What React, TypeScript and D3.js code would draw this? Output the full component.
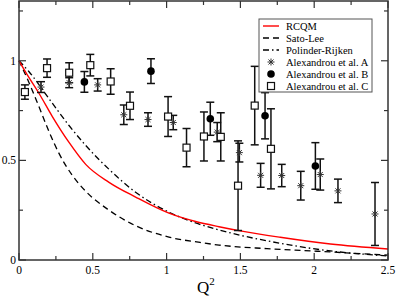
import * as d3 from 'd3';

// Q^2 axis and form factor values
const xTicks = [0, 0.5, 1, 1.5, 2, 2.5];
const xTickLabels = ['0', '0.5', '1', '1.5', '2', '2.5'];
const xMinor = [0.25, 0.75, 1.25, 1.75, 2.25];
const yTicks = [0, 0.5, 1];
const yTickLabels = ['0', '0.5', '1'];
const yMinor = [0.25, 0.75, 1.25];

// model curves
const rcqmQ = [0, 0.068, 0.135, 0.226, 0.339, 0.452, 0.61, 0.79, 1.016, 1.197, 1.355, 1.5, 1.77, 2.11, 2.5];
const rcqmF = [1, 0.915, 0.837, 0.72, 0.59, 0.48, 0.39, 0.316, 0.235, 0.193, 0.167, 0.146, 0.114, 0.08, 0.055];

const satoQ = [0, 0.068, 0.135, 0.203, 0.271, 0.361, 0.452, 0.61, 0.79, 1.016, 1.227, 1.355, 1.68, 2.02, 2.5];
const satoF = [1, 0.89, 0.77, 0.645, 0.535, 0.425, 0.345, 0.25, 0.172, 0.115, 0.088, 0.075, 0.057, 0.044, 0.024];

const polQ = [0, 0.068, 0.203, 0.339, 0.452, 0.61, 0.79, 1.016, 1.197, 1.355, 1.5, 1.77, 2.04, 2.5];
const polF = [1, 0.945, 0.81, 0.675, 0.575, 0.455, 0.34, 0.24, 0.186, 0.151, 0.124, 0.084, 0.052, 0.02];

// lattice data
const aQ = [0.149, 0.34, 0.533, 0.71, 0.874, 1.045, 1.343, 1.493, 1.637, 1.78, 1.909, 2.041, 2.161, 2.412];
const aF = [0.868, 0.89, 0.879, 0.729, 0.705, 0.69, 0.642, 0.539, 0.425, 0.424, 0.373, 0.429, 0.347, 0.231];
const aErr = [0.027, 0.025, 0.031, 0.049, 0.034, 0.036, 0.048, 0.047, 0.06, 0.056, 0.072, 0.078, 0.059, 0.158];

const bQ = [0.443, 0.894, 1.296, 1.667, 2.008];
const bF = [0.894, 0.948, 0.709, 0.724, 0.472];
const bErr = [0.052, 0.062, 0.083, 0.116, 0.117];

const cQ = [0.04, 0.19, 0.34, 0.483, 0.621, 0.752, 1.01, 1.135, 1.253, 1.367, 1.484, 1.597, 1.707];
const cF = [0.843, 0.963, 0.94, 0.978, 0.896, 0.774, 0.72, 0.564, 0.62, 0.618, 0.373, 0.775, 0.558];
const cErr = [0.036, 0.046, 0.05, 0.054, 0.064, 0.069, 0.1, 0.096, 0.123, 0.121, 0.225, 0.197, 0.201];

const legendLabels = ['RCQM', 'Sato-Lee', 'Polinder-Rijken', 'Alexandrou et al. A', 'Alexandrou et al. B', 'Alexandrou et al. C'];

const W = 398;
const H = 297;
const left = 19, right = 388, top = 1, bottom = 260;
const serif = "'Liberation Serif', 'Times New Roman', Times, 'DejaVu Serif', serif";

function Star({ x, y }: { x: number; y: number }) {
  const r = 3.5;
  const d = r * 0.72;
  return (
    <g stroke="#333" strokeWidth={1}>
      <line x1={x} y1={y - r} x2={x} y2={y + r} />
      <line x1={x - r} y1={y} x2={x + r} y2={y} />
      <line x1={x - d} y1={y - d} x2={x + d} y2={y + d} />
      <line x1={x - d} y1={y + d} x2={x + d} y2={y - d} />
    </g>
  );
}

function Square({ x, y }: { x: number; y: number }) {
  return <rect x={x - 3.5} y={y - 3.5} width={7} height={7} fill="white" stroke="#111" strokeWidth={1.2} />;
}

function Dot({ x, y }: { x: number; y: number }) {
  return <circle cx={x} cy={y} r={3.8} fill="#000" />;
}

export default function App() {
  const x = d3.scaleLinear().domain([0, 2.5]).range([left, right]);
  const y = d3.scaleLinear().domain([0, 1.3]).range([bottom, top]);

  const line = d3
    .line<[number, number]>()
    .x((d) => x(d[0]))
    .y((d) => y(d[1]))
    .curve(d3.curveMonotoneX);

  const rcqm = line(rcqmQ.map((q, i) => [q, rcqmF[i]]));
  const sato = line(satoQ.map((q, i) => [q, satoF[i]]));
  const pol = line(polQ.map((q, i) => [q, polF[i]]));

  const errBar = (q: number, f: number, e: number, key: string) => {
    const px = x(q);
    const y1 = y(f + e);
    const y2 = y(f - e);
    return (
      <g key={key} stroke="#111" strokeWidth={1.5}>
        <line x1={px} y1={y1} x2={px} y2={y2} />
        <line x1={px - 4} y1={y1} x2={px + 4} y2={y1} />
        <line x1={px - 4} y1={y2} x2={px + 4} y2={y2} />
      </g>
    );
  };

  const legX = 259, legY = 19, legW = 113, legH = 73;
  const rowH = 12;

  return (
    <svg width={W} height={H} style={{ position: 'absolute', left: 0, top: 0, background: 'white', fontFamily: serif }}>
      <rect x={0} y={0} width={W} height={H} fill="white" />

      {/* curves */}
      <path d={pol ?? ''} fill="none" stroke="#000" strokeWidth={1.3} strokeDasharray="6,3,1.5,3" />
      <path d={sato ?? ''} fill="none" stroke="#000" strokeWidth={1.3} strokeDasharray="6,4" />
      <path d={rcqm ?? ''} fill="none" stroke="#ff0000" strokeWidth={1.4} />

      {/* error bars */}
      {aQ.map((q, i) => errBar(q, aF[i], aErr[i], 'ea' + i))}
      {bQ.map((q, i) => errBar(q, bF[i], bErr[i], 'eb' + i))}
      {cQ.map((q, i) => errBar(q, cF[i], cErr[i], 'ec' + i))}

      {/* markers */}
      {aQ.map((q, i) => <Star key={'a' + i} x={x(q)} y={y(aF[i])} />)}
      {bQ.map((q, i) => <Dot key={'b' + i} x={x(q)} y={y(bF[i])} />)}
      {cQ.map((q, i) => <Square key={'c' + i} x={x(q)} y={y(cF[i])} />)}

      {/* frame and ticks */}
      <rect x={left} y={top} width={right - left} height={bottom - top} fill="none" stroke="#333" strokeWidth={1.5} />
      {xTicks.map((t) => (
        <g key={'xt' + t} stroke="#333" strokeWidth={1.2}>
          <line x1={x(t)} y1={bottom} x2={x(t)} y2={bottom - 7} />
          <line x1={x(t)} y1={top} x2={x(t)} y2={top + 7} />
        </g>
      ))}
      {xMinor.map((t) => (
        <g key={'xm' + t} stroke="#333" strokeWidth={1.2}>
          <line x1={x(t)} y1={bottom} x2={x(t)} y2={bottom - 4} />
          <line x1={x(t)} y1={top} x2={x(t)} y2={top + 4} />
        </g>
      ))}
      {yTicks.map((t) => (
        <g key={'yt' + t} stroke="#333" strokeWidth={1.2}>
          <line x1={left} y1={y(t)} x2={left + 7} y2={y(t)} />
          <line x1={right} y1={y(t)} x2={right - 7} y2={y(t)} />
        </g>
      ))}
      {yMinor.map((t) => (
        <g key={'ym' + t} stroke="#333" strokeWidth={1.2}>
          <line x1={left} y1={y(t)} x2={left + 4} y2={y(t)} />
          <line x1={right} y1={y(t)} x2={right - 4} y2={y(t)} />
        </g>
      ))}

      {xTicks.map((t, i) => (
        <text key={'xl' + t} x={x(t)} y={bottom + 14} textAnchor="middle" fontSize={11.5} style={{ fontFamily: serif }} fill="#000">
          {xTickLabels[i]}
        </text>
      ))}
      {yTicks.map((t, i) => (
        <text key={'yl' + t} x={left - 3} y={y(t) + 4} textAnchor="end" fontSize={11.5} style={{ fontFamily: serif }} fill="#000">
          {yTickLabels[i]}
        </text>
      ))}
      <text x={197} y={293} fontSize={17} style={{ fontFamily: serif }} fill="#000">
        Q<tspan dy={-8} fontSize={11}>2</tspan>
      </text>

      {/* legend */}
      <rect x={legX} y={legY} width={legW} height={legH} fill="white" stroke="#555" strokeWidth={1} />
      {legendLabels.map((lab, i) => {
        const cy = legY + 7 + i * rowH;
        const sx = legX + 12;
        let sym = null;
        if (i === 0) sym = <line x1={legX + 4} y1={cy} x2={legX + 20} y2={cy} stroke="#ff0000" strokeWidth={1.4} />;
        if (i === 1) sym = <line x1={legX + 4} y1={cy} x2={legX + 20} y2={cy} stroke="#000" strokeWidth={1.3} strokeDasharray="6,4" />;
        if (i === 2) sym = <line x1={legX + 4} y1={cy} x2={legX + 20} y2={cy} stroke="#000" strokeWidth={1.3} strokeDasharray="6,3,1.5,3" />;
        if (i === 3) sym = <Star x={sx} y={cy} />;
        if (i === 4) sym = <Dot x={sx} y={cy} />;
        if (i === 5) sym = <Square x={sx} y={cy} />;
        return (
          <g key={'lg' + i}>
            {sym}
            <text x={legX + 27} y={cy + 4} fontSize={10.5} style={{ fontFamily: serif }} fill="#000">
              {lab}
            </text>
          </g>
        );
      })}
    </svg>
  );
}
